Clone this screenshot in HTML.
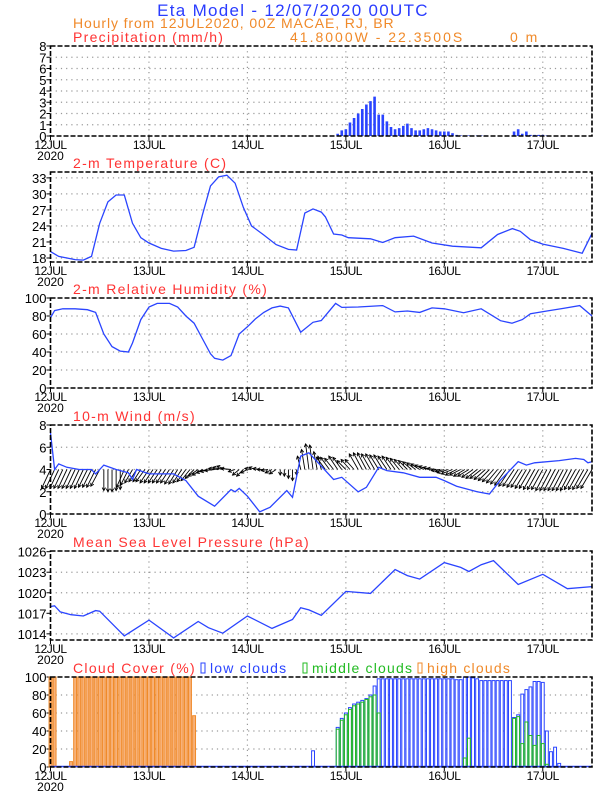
<!DOCTYPE html>
<html><head><meta charset="utf-8"><style>
body{margin:0;background:#fff;}
svg{display:block;font-family:"Liberation Sans",sans-serif;}
</style></head><body>
<svg id="chart" width="612" height="792" viewBox="0 0 612 792" xmlns="http://www.w3.org/2000/svg">
<text x="293" y="16" text-anchor="middle" font-size="17" letter-spacing="1.3" fill="#2a3cff">Eta Model - 12/07/2020 00UTC</text>
<text x="73" y="28" font-size="14" letter-spacing="0.9" fill="#f08a2a">Hourly from 12JUL2020, 00Z  MACAE, RJ, BR</text>
<text x="290" y="42" font-size="14" letter-spacing="2" fill="#f08a2a">41.8000W - 22.3500S</text>
<text x="510" y="42" font-size="14" letter-spacing="2" fill="#f08a2a">0  m</text>
</svg>
<script>
// ---- data ----
const dayLabels = ["12JUL","13JUL","14JUL","15JUL","16JUL","17JUL"];
const precipHours = [70,71,72,73,74,75,76,77,78,79,80,81,82,83,84,85,86,87,88,89,90,91,92,93,94,95,96,97,98,99,100,101,102,103,104,105,106,113,114,115,116,117,118,119,120,121];
const precipVals = [0.2,0.5,0.6,1.2,1.6,2.0,2.4,2.8,3.1,3.5,1.9,1.9,1.3,0.8,0.6,0.7,0.9,1.1,0.7,0.5,0.5,0.6,0.7,0.6,0.5,0.4,0.4,0.4,0.25,0.1,0.05,0.05,0.05,0.05,0.05,0.05,0.05,0.4,0.6,0.2,0.4,0.1,0.1,0.1,0.1,0.05];
const tempHours = [0,2,4,6,8,10,12,14,16,18,20,22,24,27,30,33,35,37,39,41,43,45,47,49,52,55,58,60,62,64,66,67,69,71,72.6,78,81,84,88.5,93,98,105,109,112.6,114.5,117,120,125,129.6,132];
const tempVals = [19.2,18.3,18.0,17.7,17.6,18.3,24.5,28.5,29.8,29.8,24.5,21.8,20.8,19.8,19.3,19.4,20.0,26.0,31.5,33.2,33.5,32.0,27.5,24.0,22.3,20.5,19.6,19.5,26.4,27.2,26.6,25.7,22.5,22.3,21.8,21.6,20.9,21.8,22.1,20.8,20.2,19.9,22.4,23.5,23.0,21.4,20.6,19.8,18.9,22.6];
const rhHours = [0,1,3,6,9,11,13,15,17,19,20,22,24,26,29,31,33,35,37,39,40,42,44,46,48,50,52,54,56,58,61,64,66,69.5,71,75,81,84,87,90,93,96,100.7,105,109.7,112.5,115,117,121,125,129,132];
const rhVals = [78,86,88,88,87,84,60,46,41,40,50,76,90,94,94,90,80,72,55,38,33,31,36,60,68,77,84,89,91,89,62,73,75,94,89.6,90,91.5,84.5,85.6,84,89,88,83.7,88,74.8,72,76,82.6,85.6,88.5,91.5,80];
const windHours = [0,1,2,4,7,10,11,13,16,19,20,21,24,30,33,36,40,44,45,46,48,51,53.5,57.6,59,61,63,66,69,71,75,77,80,82,86,90,94,96,99,104,107,109.6,114,116,118,124,128,130,131,132];
const windSpeed = [7.3,4.0,4.5,4.2,4.0,4.0,3.6,4.4,4.0,3.7,3.1,4.0,3.6,3.6,3.0,1.6,0.7,2.2,2.0,2.3,1.6,0.2,0.6,2.1,1.5,5.2,5.5,4.3,3.1,3.3,2.0,2.4,4.2,3.9,3.7,3.3,3.3,3.0,2.5,2.0,1.8,3.0,4.7,4.4,4.6,4.8,5.0,4.9,4.6,4.7];
const windV = [-1.7,-1.7,-1.7,-1.7,-1.7,-1.7,-1.7,-1.7,-1.7,-1.6,-1.6,-1.6,-1.5,
 -1.9,-2.0,-2.0,-1.9,-1.8,
 -1.6,-1.4,-1.2,-1.1,-1.1,
 -1.1,-1.2,-1.2,-1.2,-1.2,-1.2,-1.2,-1.3,-1.3,-1.2,-1.1,-1.0,-0.8,
 -0.6,-0.5,-0.3,-0.2,-0.1,0.1,0.2,0.3,0.1,
 -0.2,-0.5,-0.6,-0.3,0.1,0.2,0.1,0,-0.1,-0.3,-0.4,
 -0.5,-0.6,-0.8,-1.0,-0.5,
 1.2,1.8,2.3,2.2,1.6,1.2,
 1.1,1.1,1.0,1.2,1.1,0.8,0.9,
 0.9,1.4,1.5,1.5,1.4,1.4,1.3,1.3,1.2,1.2,1.1,
 1.0,0.9,0.8,0.7,0.6,0.5,0.4,0.3,0.2,0.1,-0.1,-0.2,
 -0.3,-0.4,-0.5,-0.5,-0.6,-0.6,-0.7,-0.8,-0.8,-0.9,
 -1.0,-1.1,-1.2,-1.3,-1.4,-1.5,-1.5,-1.6,-1.6,-1.7,-1.7,-1.8,-1.8,-1.8,-1.9,-1.9,-1.9,-1.9,-1.9,-1.9,-1.9,-1.8,-1.8,-1.8,-1.7,-1.7];
const windU = [-0.8,-0.8,-0.8,-0.8,-0.8,-0.8,-0.8,-0.8,-0.8,-0.8,-0.8,-0.8,-0.8,
 0,0,0,0,0,
 -0.7,-0.7,-0.7,-0.7,-0.7,
 -0.8,-0.8,-0.8,-0.8,-0.8,-0.8,-0.8,-0.8,-0.8,-0.8,-0.8,-0.8,-0.8,
 -0.9,-0.9,-0.9,-0.9,-0.9,-0.9,-0.9,-0.9,-0.9,
 -0.6,-0.6,-0.6,-0.6,-0.6,-0.6,-0.6,-0.6,-0.6,-0.6,-0.6,
 0,0,0,0,0,
 -0.3,-0.3,-0.3,-0.3,-0.3,-0.3,
 -0.8,-0.8,-0.8,-0.8,-0.8,-0.8,-0.8,
 -0.8,-0.8,-0.8,-0.8,-0.8,-0.8,-0.8,-0.8,-0.8,-0.8,-0.8,
 -0.8,-0.8,-0.8,-0.8,-0.8,-0.8,-0.8,-0.8,-0.8,-0.8,-0.8,-0.8,
 -1.0,-1.0,-1.0,-1.0,-1.0,-1.0,-1.0,-1.0,-1.0,-1.0,
 -1.0,-1.0,-1.0,-1.0,-1.0,-1.0,-1.0,-1.0,-1.0,-1.0,-1.0,-1.0,-1.0,-1.0,-1.0,-1.0,-1.0,-1.0,-1.0,-1.0,-1.0,-1.0,-1.0,-1.0,-1.0,-1.0];
const slpHours = [0,1,2.4,5,8,11,12,18,24,30,36,38.5,42,48,54,59,61,63,66,72,78,84,87,90,96,100,102,105,108,114,120,126,132];
const slpVals = [1018.0,1018.1,1017.2,1016.8,1016.6,1017.4,1017.3,1013.7,1016.0,1013.4,1015.8,1014.9,1014.1,1016.6,1014.8,1016.1,1017.8,1017.5,1016.7,1020.2,1019.9,1023.4,1022.5,1022.0,1024.4,1023.7,1023.1,1024.1,1024.7,1021.2,1022.7,1020.6,1020.9];
const highHours = [0,1,5,6,7,8,9,10,11,12,13,14,15,16,17,18,19,20,21,22,23,24,25,26,27,28,29,30,31,32,33,34,35];
const highVals = [100,100,6,100,100,100,100,100,100,100,100,100,100,100,100,100,100,100,100,100,100,100,100,100,100,100,100,100,100,100,100,100,57];
const lowHours = [64,70,71,72,73,74,75,76,77,78,79,80,81,82,83,84,85,86,87,88,89,90,91,92,93,94,95,96,97,98,99,100,101,102,103,104,105,106,107,108,109,110,111,112,113,114,115,116,117,118,119,120,121,122,123,124];
const lowVals = [18,44,54,60,66,70,72,74,76,80,90,98,98,98,98,98,98,98,98,98,98,98,98,98,98,98,98,98,98,98,97,97,100,100,99,98,96,96,96,96,96,96,96,96,55,58,81,86,89,95,95,94,40,17,22,4];
const midHours = [70,71,72,73,74,75,76,77,78,79,80,101,102,113,114,115,116,117,118,119,120,121];
const midVals = [42,52,58,64,68,70,72,75,78,80,60,10,32,54,56,26,50,35,24,35,26,3];

// ---- layout ----
const svg = document.getElementById('chart');
const NS = 'http://www.w3.org/2000/svg';
const X0 = 50.5, X1 = 592, HOURS = 132;
function X(h){ return X0 + (X1 - X0) * h / HOURS; }
function mk(tag, attrs){ const e = document.createElementNS(NS, tag); for (const k in attrs) e.setAttribute(k, attrs[k]); svg.appendChild(e); return e; }

function panel(name, top, bottom, vmin, vmax, ticks, title){
  const Y = v => bottom - (v - vmin) / (vmax - vmin) * (bottom - top);
  const g = mk('g', {});
  
  
  for (let d = 1; d < 6; d++) {
    const l = mk('line', {x1:X(d*24), x2:X(d*24), y1:top, y2:bottom, stroke:'#999', 'stroke-width':1.2, 'stroke-dasharray':'1.2,4'});
    
    
  }
  ticks.forEach(t => {
    const y = Y(t);
    if (y > top + 2 && y < bottom - 2) {
      const l = mk('line', {x1:X0, x2:X1, y1:y, y2:y, stroke:'#999', 'stroke-width':1.2, 'stroke-dasharray':'1.2,4'});
      
      
    }
    mk('line', {x1:X0-4, x2:X0, y1:y, y2:y, stroke:'#000', 'stroke-width':1});
    const tx = mk('text', {x:X0-4, y:y+5, 'text-anchor':'end', 'font-size':13, fill:'#000'});
    tx.textContent = t;
    
    
  });
  dayLabels.forEach((d, i) => {
    const x = X(i*24);
    mk('line', {x1:x, x2:x, y1:bottom, y2:bottom+4, stroke:'#000', 'stroke-width':1});
    const tx = mk('text', {x:x, y:bottom+13, 'text-anchor':'middle', 'font-size':12, fill:'#000', 'letter-spacing':'-0.5'});
    tx.textContent = d;
    
    
  });
  const yr = mk('text', {x:X0, y:bottom+24, 'text-anchor':'middle', 'font-size':12, fill:'#000'});
  yr.textContent = '2020';
  
  
  if (title) {
    const tt = mk('text', {x:73, y:top-4, 'font-size':14, fill:'#ff3333', 'letter-spacing':'1.3'});
    tt.textContent = title;
    
    
  }
  return Y;
}
function frame(name, top, bottom){
  const r = mk('rect', {x:X0, y:top, width:X1-X0, height:bottom-top, fill:'none', stroke:'#000', 'stroke-width':1.6, 'stroke-dasharray':'5,2'});
  
  
}
function line(name, hours, vals, Y){
  const d = hours.map((h, i) => (i ? 'L' : 'M') + X(h).toFixed(1) + ',' + Y(vals[i]).toFixed(1)).join('');
  const p = mk('path', {d:d, fill:'none', stroke:'#2a44ff', 'stroke-width':1.3});
  
  
}

// Precipitation
let Y = panel('precip', 46, 136, 0, 8, [0,1,2,3,4,5,6,7,8], 'Precipitation (mm/h)');
precipHours.forEach((h, i) => {
  const y = Y(precipVals[i]);
  const b = mk('rect', {x:X(h)-1.3, y:y, width:2.6, height:136-y, fill:'#2a44ff'});
  
  
});
frame('precip', 46, 136);

// Temperature
Y = panel('temp', 172, 262, 17.25, 34.1, [18,21,24,27,30,33], '2-m Temperature (C)');
line('temp-line', tempHours, tempVals, Y);
frame('temp', 172, 262);

// RH
Y = panel('rh', 298, 388, 0, 100, [0,20,40,60,80,100], '2-m Relative Humidity (%)');
line('rh-line', rhHours, rhVals, Y);
frame('rh', 298, 388);

// Wind
Y = panel('wind', 425, 514, 0, 8, [0,2,4,6,8], '10-m Wind (m/s)');
const pxPerUnit = (514 - 425) / 8;
windV.forEach((v, h) => {
  const x0 = X(h), y0 = Y(4);
  const x1 = x0 + windU[h] * pxPerUnit, y1 = Y(4 + v);
  const a = mk('line', {x1:x0, y1:y0, x2:x1, y2:y1, stroke:'#000', 'stroke-width':0.9});
  
  
  const ang = Math.atan2(y1 - y0, x1 - x0), L = 3.5;
  const hd = mk('path', {d:'M' + (x1 - L*Math.cos(ang-0.5)).toFixed(1) + ',' + (y1 - L*Math.sin(ang-0.5)).toFixed(1) + 'L' + x1.toFixed(1) + ',' + y1.toFixed(1) + 'L' + (x1 - L*Math.cos(ang+0.5)).toFixed(1) + ',' + (y1 - L*Math.sin(ang+0.5)).toFixed(1), fill:'none', stroke:'#000', 'stroke-width':0.9});
  
  
});
line('wind-speed-line', windHours, windSpeed, Y);
frame('wind', 425, 514);

// SLP
Y = panel('slp', 551, 640, 1013.1, 1026.1, [1014,1017,1020,1023,1026], 'Mean Sea Level Pressure (hPa)');
line('slp-line', slpHours, slpVals, Y);
frame('slp', 551, 640);

// Cloud
Y = panel('cloud', 677, 767, 0, 100, [0,20,40,60,80,100], null);
const ct = mk('text', {x:73, y:673, 'font-size':14, fill:'#ff3333', 'letter-spacing':'1.3'});
ct.textContent = 'Cloud Cover (%)';


function bars(name, hours, vals, fill, stroke){
  hours.forEach((h, i) => {
    const y = Y(vals[i]);
    const b = mk('rect', {x:X(h-0.5)+0.6, y:y, width:X(1)-X(0)-1.2, height:767-y, fill:fill, stroke:stroke, 'stroke-width':1});
    
    
  });
}
bars('high-cloud-bar', highHours, highVals, '#f7b27a', '#f08a2a');
bars('low-cloud-bar', lowHours, lowVals, '#fff', '#2a44ff');
bars('middle-cloud-bar', midHours, midVals, 'none', '#22bb22');
const base = mk('line', {x1:X0, x2:X1, y1:766.5, y2:766.5, stroke:'#2a44ff', 'stroke-width':1.5});


frame('cloud', 677, 767);
// legend
[['low clouds','#2a44ff',201],['middle clouds','#22bb22',303],['high clouds','#f08a2a',418]].forEach(([t,c,x]) => {
  const r = mk('rect', {x:x, y:663, width:4, height:10, fill:'none', stroke:c, 'stroke-width':1});
  
  
  const tx = mk('text', {x:x+9, y:673, 'font-size':14, fill:c, 'letter-spacing':'1.2'});
  tx.textContent = t;
  
  
});
</script>
</body></html>
